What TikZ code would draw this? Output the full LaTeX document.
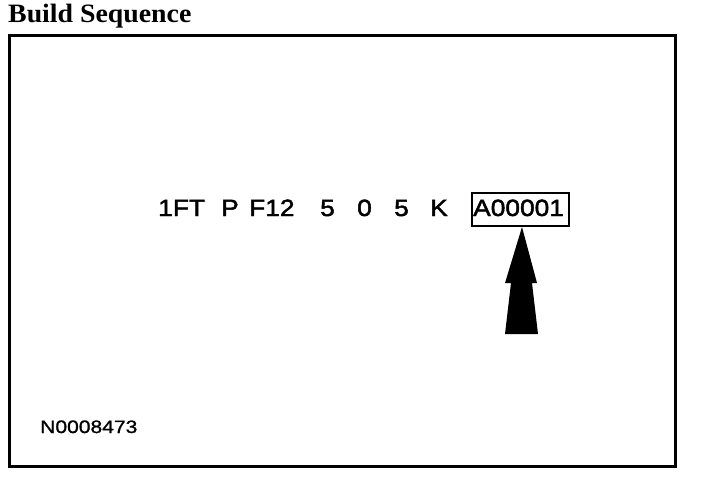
\documentclass[tikz,border=0pt]{standalone}
\usepackage{fontspec}
\setmainfont{Liberation Serif}
\setsansfont{Liberation Sans}
\newfontfamily\titlefont[FakeStretch=1.05]{Liberation Serif}
\newfontfamily\codefont[FakeStretch=1.12,FakeBold=2]{Liberation Sans}
\newfontfamily\reffont[FakeStretch=1.17,FakeBold=1.2]{Liberation Sans}
\begin{document}
\begin{tikzpicture}[x=1pt,y=-1pt,
  code/.style={font=\codefont\fontsize{23.5}{23.5}\selectfont, inner sep=0pt, anchor=base west},
  frame/.style={draw=black, line width=3pt},
  idbox/.style={draw=black, line width=2.4pt},
  bigarrow/.style={fill=black, draw=none}]
\useasboundingbox (0,0) rectangle (704,480);
\node[font=\titlefont\bfseries\fontsize{26.5}{26.5}\selectfont, inner sep=0pt, anchor=base west] (title) at (8,22) {Build Sequence};
\draw[frame] (9,35) rectangle (675,466);
\node[code] (t1) at (158,216) {1FT};
\node[code] (t2) at (221,216) {P};
\node[code] (t3) at (249,216) {F12};
\node[code] (t4) at (320,216) {5};
\node[code] (t5) at (357,216) {0};
\node[code] (t6) at (394,216) {5};
\node[code] (t7) at (430,216) {K};
\node[code] (t8) at (473,216) {A00001};
\draw[idbox] (472,193) rectangle (569,226);
\fill[bigarrow] (522,227) -- (537,283) -- (532,283) -- (538,334) -- (505,334) -- (511,283) -- (505,283) -- cycle;
\node[font=\reffont\fontsize{18}{18}\selectfont, inner sep=0pt, anchor=base west] (ref) at (40,433) {N0008473};
\end{tikzpicture}
\end{document}
